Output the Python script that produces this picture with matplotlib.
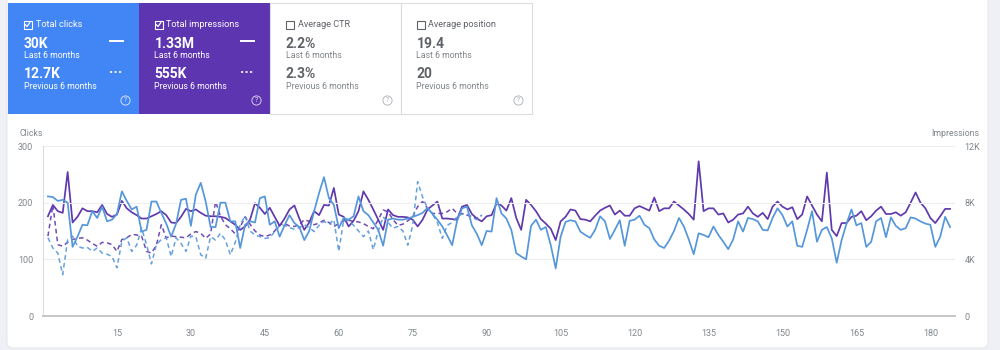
import numpy as np
import matplotlib
matplotlib.use('Agg')
import matplotlib.pyplot as plt
from matplotlib.patches import Rectangle, Circle, FancyBboxPatch

plt.rcParams['font.family'] = ['Roboto', 'DejaVu Sans']

# Datos (clics; impresiones en miles)
clicks_cur = [
    211, 210, 203, 205, 200, 122, 140, 161, 160, 185,
    173, 193, 167, 170, 180, 220, 203, 188, 193, 149,
    152, 202, 202, 182, 163, 140, 163, 205, 207, 159,
    214, 235, 202, 157, 157, 200, 200, 167, 167, 120,
    161, 167, 165, 208, 211, 161, 167, 140, 160, 178,
    164, 157, 134, 150, 185, 217, 245, 208, 196, 155,
    173, 170, 176, 211, 185, 178, 165, 152, 124, 170,
    172, 170, 170, 172, 175, 178, 182, 191, 180, 170,
    158, 142, 125, 168, 190, 193, 160, 145, 125, 150,
    149, 208, 181, 172, 152, 111, 105, 100, 159, 170,
    152, 157, 125, 84, 140, 166, 169, 167, 149, 143,
    138, 152, 176, 167, 136, 152, 169, 124, 168, 170,
    177, 161, 155, 135, 124, 120, 133, 150, 173, 158,
    135, 109, 146, 143, 139, 158, 143, 131, 118, 135,
    167, 149, 173, 171, 167, 152, 151, 173, 190, 178,
    158, 167, 124, 122, 152, 185, 131, 152, 157, 137,
    94, 134, 163, 188, 160, 164, 122, 131, 167, 173,
    139, 174, 159, 152, 155, 174, 172, 167, 163, 161,
    122, 140, 175, 157,
]

impr_cur = [
    7.04, 7.84, 7.40, 7.28, 10.16, 6.60, 7.00, 7.60, 7.40, 7.40,
    7.32, 7.84, 7.20, 7.00, 7.16, 8.12, 7.60, 7.32, 7.12, 6.88,
    6.88, 7.04, 7.20, 7.40, 7.12, 6.60, 6.56, 7.00, 7.56, 7.40,
    7.52, 7.28, 7.08, 7.04, 7.04, 7.00, 6.92, 6.68, 6.44, 6.08,
    6.32, 6.80, 7.96, 7.64, 7.20, 7.64, 7.00, 6.36, 6.88, 7.52,
    7.80, 6.88, 6.08, 6.60, 7.40, 7.12, 7.84, 7.80, 9.04, 7.16,
    7.00, 6.32, 6.72, 7.40, 8.80, 8.20, 7.52, 6.80, 6.08, 7.52,
    7.12, 7.00, 7.00, 6.96, 6.80, 6.32, 6.80, 7.52, 7.80, 8.08,
    6.88, 6.88, 6.84, 6.80, 7.72, 7.84, 7.20, 6.88, 6.68, 7.04,
    7.12, 7.96, 7.80, 7.44, 8.32, 6.92, 6.08, 8.20, 7.84, 7.40,
    6.84, 6.52, 6.16, 5.36, 6.68, 7.00, 7.52, 7.44, 6.84, 6.80,
    6.68, 7.08, 7.44, 7.64, 7.80, 7.16, 7.44, 7.08, 7.08, 7.60,
    7.76, 7.60, 7.44, 8.36, 7.40, 7.60, 7.60, 8.08, 7.80, 7.52,
    7.20, 6.80, 10.92, 7.40, 7.60, 7.60, 7.16, 7.24, 6.60, 6.80,
    7.16, 7.24, 7.72, 7.24, 7.00, 7.28, 6.84, 7.72, 8.08, 7.72,
    7.52, 7.68, 6.84, 7.16, 8.44, 7.80, 7.16, 6.68, 10.12, 6.08,
    5.64, 6.56, 6.56, 7.00, 7.08, 7.40, 6.76, 7.04, 7.44, 7.72,
    7.20, 7.20, 7.32, 7.08, 7.32, 8.00, 8.72, 8.00, 7.60, 6.92,
    6.56, 7.04, 7.56, 7.56,
]

clicks_prev = [
    138, 120, 111, 73, 135, 141, 123, 120, 121, 114,
    120, 111, 109, 105, 85, 132, 138, 114, 125, 155,
    126, 92, 126, 135, 138, 105, 138, 128, 114, 141,
    140, 108, 102, 140, 134, 146, 134, 108, 130, 161,
    177, 150, 143, 140, 137, 138, 149, 159, 160, 156,
    153, 156, 161, 156, 149, 160, 167, 162, 170, 114,
    170, 168, 160, 150, 140, 150, 117, 150, 175, 165,
    155, 158, 150, 125, 160, 237, 210, 190, 180, 165,
    137, 160, 165, 175, 180, 180, 175, 170, 178,
]

impr_prev = [
    5.64, 7.84, 5.04, 4.92, 5.20, 5.40, 5.48, 5.52, 5.36, 5.12,
    4.92, 5.20, 5.16, 5.04, 4.56, 5.40, 5.52, 5.76, 5.72, 5.64,
    4.56, 4.44, 5.00, 6.44, 5.52, 5.64, 5.60, 5.56, 5.52, 5.80,
    5.96, 5.84, 5.48, 5.80, 8.08, 7.04, 6.44, 6.16, 5.80, 6.28,
    7.00, 6.48, 6.00, 5.72, 5.60, 5.72, 6.00, 6.44, 6.52, 6.36,
    6.32, 6.44, 6.80, 6.68, 6.44, 6.56, 6.76, 6.60, 6.32, 6.52,
    6.72, 6.76, 6.68, 6.64, 6.52, 6.32, 6.16, 6.80, 7.48, 7.36,
    6.80, 6.40, 6.48, 6.72, 7.00, 7.72, 8.08, 7.60, 7.24, 7.24,
    7.24, 7.36, 7.60, 7.24, 7.24, 7.12, 7.00, 6.88, 7.12,
]

x_ticks = [15, 30, 45, 60, 75, 90, 105, 120, 135, 150, 165, 180]
y_ticks = [0, 100, 200, 300]
y2_ticks = [0, 4, 8, 12]
y2_labels = ['0', '4K', '8K', '12K']

# Tarjetas de resumen
card_titles = ['Total clicks', 'Total impressions', 'Average CTR', 'Average position']
card_now = ['30K', '1.33M', '2.2%', '19.4']
card_prev = ['12.7K', '555K', '2.3%', '20']
card_on = [True, True, False, False]
card_bg = ['#4285f4', '#5e35b1', 'white', 'white']

BLUE = '#5597da'
PURPLE = '#6039ad'

fig = plt.figure(figsize=(10, 3.5), dpi=100, facecolor='#eef0f5')

# Capa de fondo en coordenadas de píxel
bg = fig.add_axes([0, 0, 1, 1])
bg.set_xlim(0, 1000)
bg.set_ylim(350, 0)
bg.axis('off')
bg.add_patch(FancyBboxPatch((7, -10), 981, 358, boxstyle='round,pad=0,rounding_size=6',
                            fc='white', ec='#e6e8ec', lw=0.8))

x0 = 8
w = 131
for i in range(4):
    left = x0 + i * w
    on = card_on[i]
    txt = 'white' if on else '#5f6368'
    sub = 'white' if on else '#80868b'
    bg.add_patch(Rectangle((left, 3), w, 111, fc=card_bg[i],
                           ec='none' if on else '#dadce0', lw=0.8))
    # casilla
    bx, by = left + 15.5, 20.5
    bg.add_patch(Rectangle((bx, by), 8, 8, fc='none', ec=txt, lw=0.8))
    if on:
        bg.plot([bx + 1.8, bx + 3.5, bx + 6.3], [by + 4.2, by + 6.0, by + 2.2],
                color='white', lw=0.9)
    bg.text(left + 27.5, 24.5, card_titles[i], color=txt, fontsize=6.6, va='center')
    bg.text(left + 15.5, 43.5, card_now[i], color=txt, fontsize=10, fontweight='bold', va='center')
    bg.text(left + 15.5, 56, 'Last 6 months', color=sub, fontsize=6.3, va='center')
    bg.text(left + 15.5, 74.5, card_prev[i], color=txt, fontsize=10, fontweight='bold', va='center')
    bg.text(left + 15.5, 86.5, 'Previous 6 months', color=sub, fontsize=6.3, va='center')
    if on:
        bg.plot([left + 102, left + 115], [40.5, 40.5], color='white', lw=1.4)
        bg.plot([left + 102, left + 115], [71.5, 71.5], color='white', lw=1.2,
                linestyle=(0, (1.3, 1.4)))
    hc = 'white' if on else '#9aa0a6'
    bg.add_patch(Circle((left + 117.5, 100.5), 4.6, fc='none', ec=hc, lw=0.6, alpha=0.85))
    bg.text(left + 117.5, 100.8, '?', color=hc, fontsize=4.8, ha='center', va='center', alpha=0.85)

# Gráfica principal
ax = fig.add_axes([0.043, (350 - 316) / 350, 0.912, 170 / 350])
ax.patch.set_alpha(0)
ax2 = ax.twinx()

n_cur = np.arange(1, len(clicks_cur) + 1)
n_prev = np.arange(1, len(clicks_prev) + 1)

ax2.plot(n_prev, impr_prev, color=PURPLE, lw=1.1, linestyle=(0, (3, 2.2)), alpha=0.9)
ax.plot(n_prev, clicks_prev, color=BLUE, lw=1.1, linestyle=(0, (3, 2.2)), alpha=0.9)
ax2.plot(n_cur, impr_cur, color=PURPLE, lw=1.25)
ax.plot(n_cur, clicks_cur, color=BLUE, lw=1.25)
ax.set_zorder(ax2.get_zorder() + 1)

ax.set_xlim(0, 185)
ax.set_ylim(0, 300)
ax2.set_ylim(0, 12)

ax.set_xticks(x_ticks)
ax.set_yticks(y_ticks)
ax2.set_yticks(y2_ticks)
ax2.set_yticklabels(y2_labels)
for t in y_ticks[1:]:
    ax.axhline(t, color='#eeeeee', lw=0.8, zorder=0)

for a in (ax, ax2):
    for s in ('top', 'right', 'left'):
        a.spines[s].set_visible(False)
    a.spines['bottom'].set_color('#c8c8c8')
    a.spines['bottom'].set_linewidth(1.3)
ax.spines['left'].set_visible(True)
ax.spines['left'].set_color('#dcdcdc')
ax.spines['left'].set_linewidth(0.8)

ax.tick_params(axis='x', length=0, pad=9, labelsize=6.5, labelcolor='#80868b')
ax.tick_params(axis='y', length=0, pad=7, labelsize=6.5, labelcolor='#80868b')
ax2.tick_params(axis='y', length=0, pad=7, labelsize=6.5, labelcolor='#80868b')

bg.text(19, 134, 'Clicks', color='#80868b', fontsize=6.3, va='center')
bg.text(979, 134, 'Impressions', color='#80868b', fontsize=6.3, va='center', ha='right')

fig.savefig('out.png', dpi=100, facecolor=fig.get_facecolor())
